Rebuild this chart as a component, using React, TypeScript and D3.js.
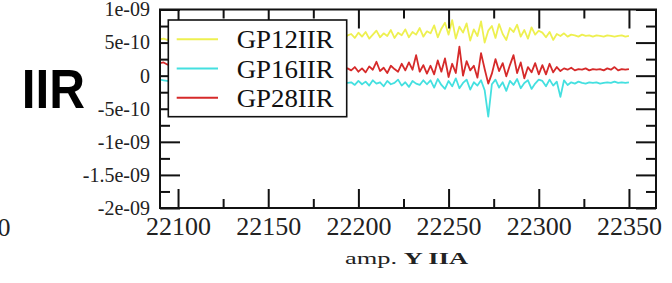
import React, { useEffect, useRef } from 'react';
import * as d3 from 'd3';

// x grid: one sample every 2 units from 22090
const xStart = 22090;
const xStep = 2;

// values in units of 1e-10
const gp12 = [
  5.5, 5.6, 5.4, 5.8, 5.7, 6.0, 5.6, 5.9, 5.5, 5.8,
  6.1, 5.7, 5.9, 5.6, 6.0, 5.8, 5.5, 5.9, 6.2, 5.7,
  5.8, 6.0, 5.6, 5.9, 5.7, 6.1, 5.8, 5.5, 5.9, 6.0,
  5.7, 5.8, 6.2, 5.6, 5.9, 5.7, 6.0, 5.8, 5.6, 6.1,
  5.9, 5.7, 5.8, 6.0, 5.6, 5.9, 6.2, 5.8, 5.7, 6.0,
  5.9, 5.6, 6.1,
  6.3, 5.7, 6.5, 5.9, 6.6, 5.6, 6.2, 6.8, 5.8, 6.4,
  6.0, 6.9, 5.7, 6.5, 6.1, 7.0, 5.8, 6.6, 6.2, 7.2,
  5.9, 6.7,
  6.4, 7.6, 5.8, 7.1, 8.0, 6.2, 8.4, 5.6, 7.4, 6.5,
  7.9, 5.3, 7.0, 6.0, 8.2, 5.0, 6.8, 7.5, 5.7, 7.8,
  6.3, 5.4, 7.2, 6.6, 7.7, 5.9, 6.9, 5.6, 7.3, 6.2,
  6.8,
  6.5, 5.8, 6.6, 5.4, 6.3, 6.0, 6.4, 5.9, 6.2, 6.1,
  5.9, 6.2, 6.0, 6.1, 5.9, 6.1, 6.0, 5.9, 6.1, 6.0,
  5.9, 6.0, 6.1, 5.9, 6.0,
];

const gp16 = [
  -0.6, -0.7, -0.8, -0.9, -0.8, -1.0, -0.9, -1.1, -0.9, -1.0,
  -1.2, -0.9, -1.1, -1.0, -1.2, -0.9, -1.1, -1.3, -1.0, -1.1,
  -0.9, -1.2, -1.0, -1.1, -1.3, -1.0, -0.9, -1.2, -1.1, -1.0,
  -1.2, -0.9, -1.1, -1.0, -1.3, -1.1, -0.9, -1.2, -1.0, -1.1,
  -1.2, -0.9, -1.1, -1.0, -1.2, -1.1, -0.9, -1.2, -1.0, -1.1,
  -1.3, -1.0, -1.1,
  -1.0, -1.4, -0.8, -1.3, -0.9, -1.5, -0.7, -1.2, -1.0, -1.6,
  -0.8, -1.3, -1.1, -0.6, -1.5, -1.0, -1.7, -0.8, -1.2, -1.4,
  -0.7, -1.3,
  -0.7, -1.8, -0.5, -1.4, -2.0, -0.8, -1.6, -0.4, -1.9, -1.1,
  -0.6, -2.1, -1.0, -1.5, -0.7, -2.2, -6.2, -1.3, -0.6, -1.8,
  -1.0, -2.3, -0.8, -1.4, -0.5, -1.9, -1.1, -0.7, -2.0, -1.2,
  -0.6,
  -0.8, -1.6, -0.6, -1.5, -0.9, -3.2, -0.7, -1.4, -1.0, -1.2,
  -0.9, -1.1, -1.2, -1.0, -1.1, -1.0, -1.2, -1.1, -1.0, -1.1,
  -0.9, -1.1, -1.0, -1.1, -1.0,
];

const gp28 = [
  1.9, 2.0, 1.7, 1.5, 1.8, 1.3, 1.6, 1.2, 1.5, 1.0,
  1.4, 1.1, 1.3, 0.9, 1.5, 1.2, 0.8, 1.4, 1.0, 1.3,
  0.7, 1.2, 1.0, 1.5, 0.9, 1.1, 1.4, 0.8, 1.2, 1.0,
  1.3, 0.9, 1.5, 1.1, 0.8, 1.2, 1.4, 0.9, 1.1, 1.3,
  0.8, 1.2, 1.0, 1.4, 0.9, 1.1, 1.3, 0.8, 1.2, 1.0,
  1.3, 0.9, 1.1,
  0.8, 1.3, 0.6, 1.1, 0.5, 1.4, 0.9, 2.1, 0.7, 1.2,
  0.4, 1.5, 1.0, 0.6, 1.8, 0.8, 2.0, 0.9, 3.1, 0.6,
  1.6, 0.3,
  1.5, 0.2, 2.3, 0.6, 2.6, -0.2, 1.8, 0.4, 4.4, 0.0,
  2.2, 0.8, 1.5, -0.3, 3.4, 1.0, -1.2, 0.3, 2.5, 0.7,
  1.9, -0.1, 1.6, 3.1, 0.4, 2.0, -0.4, 1.3, 0.5, 1.9,
  0.2,
  1.6, 0.2, 1.8, 0.5, 1.3, 0.7, 1.1, 0.9, 1.2, 0.8,
  1.0, 0.9, 1.1, 0.8, 1.0, 0.9, 1.0, 0.8, 1.1, 0.9,
  1.3, 0.8, 1.0, 0.9, 1.0,
];

const seriesNames = ['GP12IIR', 'GP16IIR', 'GP28IIR'];
const seriesColors = ['#eef050', '#44e0e0', '#d62a2a'];

const xTicks = [22100, 22150, 22200, 22250, 22300, 22350];
const xMinorTicks = [22125, 22175, 22225, 22275, 22325];
const yTicks = [-2e-9, -1.5e-9, -1e-9, -5e-10, 0, 5e-10, 1e-9];
const yTickLabels = ['-2e-09', '-1.5e-09', '-1e-09', '-5e-10', '0', '5e-10', '1e-09'];
const yMinorTicks = [-1.75e-9, -1.25e-9, -7.5e-10, -2.5e-10, 2.5e-10, 7.5e-10];

const serif = '"Liberation Serif", "Times New Roman", serif';

export default function App() {
  const svgRef = useRef<SVGSVGElement>(null);

  useEffect(() => {
    if (!svgRef.current) return;
    const svg = d3.select(svgRef.current);
    svg.selectAll('*').remove();

    const left = 160, right = 656, top = 9.5, bottom = 208;
    const x = d3.scaleLinear().domain([22090, 22365]).range([left, right]);
    const y = d3.scaleLinear().domain([-2e-9, 1e-9]).range([bottom, top]);

    svg.append('defs').append('clipPath').attr('id', 'plotclip')
      .append('rect').attr('x', left).attr('y', top)
      .attr('width', right - left).attr('height', bottom - top);

    const line = d3.line<number>()
      .x((_, i) => x(xStart + i * xStep))
      .y(d => y(d * 1e-10));

    [gp12, gp16, gp28].forEach((s, k) => {
      svg.append('path')
        .attr('clip-path', 'url(#plotclip)')
        .attr('d', line(s))
        .attr('fill', 'none')
        .attr('stroke', seriesColors[k])
        .attr('stroke-width', 1.8)
        .attr('stroke-linejoin', 'round');
    });

    const addAxis = (gen: any, tx: number, ty: number, fontSize = 20) => {
      const g = svg.append('g').attr('transform', `translate(${tx},${ty})`).call(gen);
      g.select('.domain').remove();
      g.attr('font-family', serif).attr('font-size', fontSize);
      g.selectAll('line').attr('stroke', '#111').attr('stroke-width', 2);
      g.selectAll('text').attr('fill', '#222');
      return g;
    };

    // major + minor ticks, all pointing inward
    addAxis(d3.axisBottom(x).tickValues(xTicks).tickSize(-19).tickPadding(9).tickFormat(d3.format('d')), 0, bottom, 26);
    addAxis(d3.axisBottom(x).tickValues(xMinorTicks).tickSize(-9).tickFormat(() => ''), 0, bottom);
    addAxis(d3.axisTop(x).tickValues(xTicks).tickSize(-19).tickFormat(() => ''), 0, top);
    addAxis(d3.axisTop(x).tickValues(xMinorTicks).tickSize(-9).tickFormat(() => ''), 0, top);
    addAxis(d3.axisLeft(y).tickValues(yTicks).tickSize(-20).tickPadding(10)
      .tickFormat((_, i) => yTickLabels[i]), left, 0, 20);
    addAxis(d3.axisLeft(y).tickValues(yMinorTicks).tickSize(-10).tickFormat(() => ''), left, 0);
    addAxis(d3.axisRight(y).tickValues(yTicks).tickSize(-20).tickFormat(() => ''), right, 0);
    addAxis(d3.axisRight(y).tickValues(yMinorTicks).tickSize(-10).tickFormat(() => ''), right, 0);

    svg.append('rect')
      .attr('x', left).attr('y', top)
      .attr('width', right - left).attr('height', bottom - top)
      .attr('fill', 'none').attr('stroke', '#111').attr('stroke-width', 2);

    // legend
    const lg = svg.append('g');
    lg.append('rect')
      .attr('x', 168.3).attr('y', 20).attr('width', 178.4).attr('height', 96.7)
      .attr('fill', '#fff').attr('stroke', '#111').attr('stroke-width', 1.6);
    seriesNames.forEach((name, k) => {
      const cy = 39.3 + k * 29.2;
      lg.append('line')
        .attr('x1', 176.7).attr('x2', 218).attr('y1', cy).attr('y2', cy)
        .attr('stroke', seriesColors[k]).attr('stroke-width', 2);
      lg.append('text')
        .attr('x', 236.7).attr('y', cy + 9)
        .attr('font-family', serif).attr('font-size', 25)
        .attr('textLength', 97).attr('lengthAdjust', 'spacingAndGlyphs')
        .attr('fill', '#111')
        .text(name);
    });

    // x-axis title
    const xt = svg.append('text')
      .attr('x', 345).attr('y', 263.5)
      .attr('font-family', serif).attr('font-size', 17.5)
      .attr('textLength', 123).attr('lengthAdjust', 'spacingAndGlyphs')
      .attr('fill', '#222');
    xt.append('tspan').text('amp. ');
    xt.append('tspan').attr('font-weight', 'bold').text('Y IIA');

    // panel label
    svg.append('text')
      .attr('x', 21.7).attr('y', 108.3)
      .attr('font-family', '"Liberation Sans", Arial, sans-serif')
      .attr('font-weight', 'bold').attr('font-size', 55)
      .attr('textLength', 63.3).attr('lengthAdjust', 'spacingAndGlyphs')
      .attr('fill', '#000')
      .text('IIR');

    // cut-off tick label of neighbouring panel
    svg.append('text')
      .attr('x', 10.5).attr('y', 236)
      .attr('text-anchor', 'end')
      .attr('font-family', serif).attr('font-size', 26)
      .attr('fill', '#222')
      .text('0');
  }, []);

  return (
    <svg
      ref={svgRef}
      width={672}
      height={283}
      style={{ position: 'absolute', left: 0, top: 0, background: '#fff' }}
    />
  );
}
